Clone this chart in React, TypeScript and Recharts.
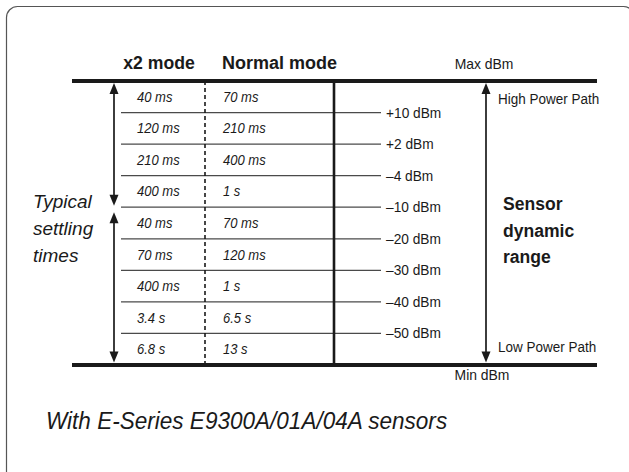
import React from "react";
import {
  ComposedChart,
  Customized,
  ReferenceLine,
  Scatter,
  XAxis,
  YAxis,
} from "recharts";

// settling times per dBm band, top (high power) to bottom (low power)
const x2Times = ["40 ms", "120 ms", "210 ms", "400 ms", "40 ms", "70 ms", "400 ms", "3.4 s", "6.8 s"];
const normalTimes = ["70 ms", "210 ms", "400 ms", "1 s", "70 ms", "120 ms", "1 s", "6.5 s", "13 s"];
// band boundaries between rows
const boundaries = ["+10 dBm", "+2 dBm", "–4 dBm", "–10 dBm", "–20 dBm", "–30 dBm", "–40 dBm", "–50 dBm"];
// row index where the high power path hands over to the low power path
const pathSplit = 4;

// no condensed face installed, so squeeze Liberation Sans a little
const FONT = "'Liberation Sans', Arial, sans-serif";
const INK = "#1a1a1a";

const W = 629;
const H = 472;
const TOP = 81;
const BOTTOM = 365;
const X2_COL = 137;
const NORMAL_COL = 223;
const ROW_LEFT = 121;
const ROW_RIGHT = 381;
const FRAME_LEFT = 72;
const FRAME_RIGHT = 597;

const nRows = x2Times.length;
const x2Points = x2Times.map((t, i) => ({ col: X2_COL, row: i + 0.5, text: t }));
const normalPoints = normalTimes.map((t, i) => ({ col: NORMAL_COL, row: i + 0.5, text: t }));

function T({ x, y, size, sx = 0.95, children, ...rest }: any) {
  return (
    <text
      transform={`translate(${x},${y}) scale(${sx},1)`}
      fontFamily={FONT}
      fontSize={size}
      fill={INK}
      {...rest}
    >
      {children}
    </text>
  );
}

function TimeCell(props: any) {
  const { cx, cy, payload } = props;
  return (
    <T x={cx} y={cy + 5} size={14} sx={0.93} fontStyle="italic">
      {payload.text}
    </T>
  );
}

function boundaryShape(label: string) {
  return (p: any) => (
    <g>
      <line x1={p.x1} y1={p.y1} x2={p.x2} y2={p.y2} stroke="#4a4a4a" strokeWidth={1.2} />
      <T x={p.x2 + 5} y={p.y2 + 5} size={14} sx={0.98}>
        {label}
      </T>
    </g>
  );
}

function arrowShape(topGap: number, bottomGap: number) {
  return (p: any) => {
    const x = p.x1;
    const top = Math.min(p.y1, p.y2) + topGap;
    const bot = Math.max(p.y1, p.y2) - bottomGap;
    const hl = 11;
    const hw = 4.5;
    return (
      <g>
        <line x1={x} y1={top + 4} x2={x} y2={bot - 4} stroke={INK} strokeWidth={1.7} />
        <polygon points={`${x},${top} ${x - hw},${top + hl} ${x + hw},${top + hl}`} fill={INK} />
        <polygon points={`${x},${bot} ${x - hw},${bot - hl} ${x + hw},${bot - hl}`} fill={INK} />
      </g>
    );
  };
}

function Labels() {
  return (
    <g>
      <rect x={6.5} y={6.5} width={628} height={476} rx={11} fill="none" stroke="#555" strokeWidth={1.2} />
      <T x={159} y={69} size={18} sx={0.98} fontWeight="bold" textAnchor="middle">x2 mode</T>
      <T x={222} y={69} size={18} sx={1} fontWeight="bold">Normal mode</T>
      <T x={484} y={69} size={14.5} sx={0.96} textAnchor="middle">Max dBm</T>
      <T x={482} y={380} size={14.5} sx={0.96} textAnchor="middle">Min dBm</T>
      <T x={498} y={104} size={14.5} sx={0.93}>High Power Path</T>
      <T x={498} y={352} size={14.5} sx={0.93}>Low Power Path</T>
      <T x={33} y={208} size={19} sx={1} fontStyle="italic">Typical</T>
      <T x={33} y={235} size={19} sx={1} fontStyle="italic">settling</T>
      <T x={33} y={262} size={19} sx={1} fontStyle="italic">times</T>
      <T x={503} y={210} size={18.5} sx={0.95} fontWeight="bold">Sensor</T>
      <T x={503} y={236.5} size={18.5} sx={0.95} fontWeight="bold">dynamic</T>
      <T x={503} y={263} size={18.5} sx={0.95} fontWeight="bold">range</T>
      <T x={46} y={429} size={23.5} sx={0.96} fontStyle="italic">
        With E-Series E9300A/01A/04A sensors
      </T>
    </g>
  );
}

export default function App() {
  return (
    <div style={{ position: "absolute", left: 0, top: 0, width: W, height: H, background: "#fff" }}>
      <ComposedChart width={W} height={H} margin={{ top: TOP, right: 0, bottom: H - BOTTOM, left: 0 }}>
        <XAxis type="number" dataKey="col" domain={[0, W]} hide allowDataOverflow />
        <YAxis type="number" dataKey="row" domain={[0, nRows]} reversed hide allowDataOverflow />
        <Customized component={Labels} />
        {boundaries.map((b, i) => (
          <ReferenceLine
            key={b}
            ifOverflow="visible"
            segment={[{ x: ROW_LEFT, y: i + 1 }, { x: ROW_RIGHT, y: i + 1 }]}
            shape={boundaryShape(b)}
          />
        ))}
        <ReferenceLine
          ifOverflow="visible"
          segment={[{ x: 205, y: 0 }, { x: 205, y: nRows }]}
          stroke={INK}
          strokeWidth={1.6}
          strokeDasharray="4 3"
        />
        <ReferenceLine
          ifOverflow="visible"
          segment={[{ x: 334, y: 0 }, { x: 334, y: nRows }]}
          stroke={INK}
          strokeWidth={2.6}
        />
        <ReferenceLine
          ifOverflow="visible"
          segment={[{ x: 114, y: 0 }, { x: 114, y: pathSplit }]}
          shape={arrowShape(2, 1.5)}
        />
        <ReferenceLine
          ifOverflow="visible"
          segment={[{ x: 114, y: pathSplit }, { x: 114, y: nRows }]}
          shape={arrowShape(5, 2.5)}
        />
        <ReferenceLine
          ifOverflow="visible"
          segment={[{ x: 486, y: 0 }, { x: 486, y: nRows }]}
          shape={arrowShape(2, 2.5)}
        />
        <ReferenceLine
          ifOverflow="visible"
          segment={[{ x: FRAME_LEFT, y: 0 }, { x: FRAME_RIGHT, y: 0 }]}
          stroke={INK}
          strokeWidth={4}
        />
        <ReferenceLine
          ifOverflow="visible"
          segment={[{ x: FRAME_LEFT, y: nRows }, { x: FRAME_RIGHT, y: nRows }]}
          stroke={INK}
          strokeWidth={4}
        />
        <Scatter data={x2Points} shape={TimeCell} isAnimationActive={false} />
        <Scatter data={normalPoints} shape={TimeCell} isAnimationActive={false} />
      </ComposedChart>
    </div>
  );
}
